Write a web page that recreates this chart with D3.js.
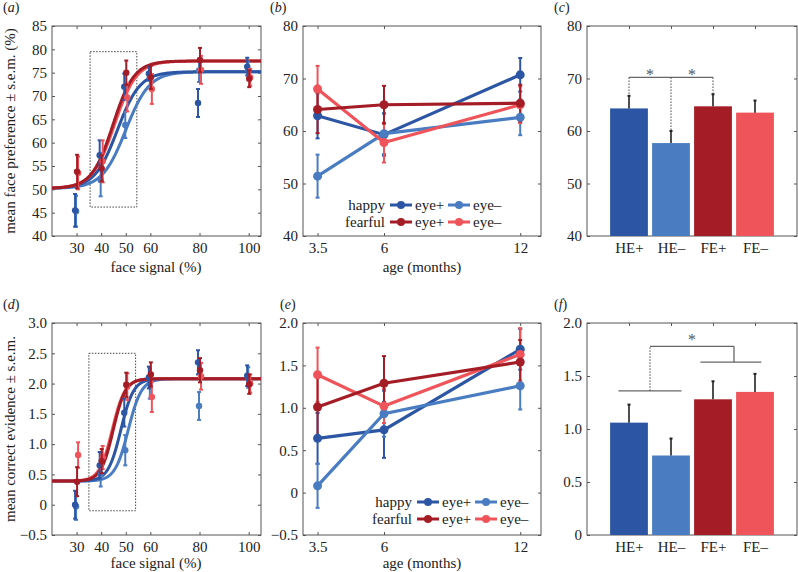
<!DOCTYPE html>
<html>
<head>
<meta charset="utf-8">
<style>
    body { margin: 0; background: #fff; }
    svg { display: block; font-family: 'Liberation Serif', 'DejaVu Serif', serif; }
    .tick text { font-size: 15px; fill: #222; font-family: 'Liberation Serif', 'DejaVu Serif', serif; }
    .tick line { stroke: #555; }
    .domain { display: none; }
    .axlabel { font-size: 15px; fill: #222; }
    .plabel { font-size: 14px; fill: #222; }
    .legend text { font-size: 15px; fill: #222; }
</style>
</head>
<body>
<svg width="798" height="572"></svg>

<script src="https://d3js.org/d3.v7.min.js"></script>
<script>
// ---------- data ----------
const series = ["HE+", "HE-", "FE+", "FE-"]
const seriesColor = ["#2c56a4", "#4a7cc2", "#a41c25", "#ee5459"]

const signal = [30, 40, 50, 60, 80, 100]
const ages = [3.5, 6, 12]
const barLabels = ["HE+", "HE\u2013", "FE+", "FE\u2013"]

// (a) face preference by face signal
const prefBySignal = [
    [45.5, 57.3, 72.0, 74.8, 68.5, 76.3],
    [45.3, 52.0, 63.8, 74.0, 75.5, 75.6],
    [53.8, 54.5, 75.0, 74.0, 77.7, 73.7],
    [53.5, 56.0, 69.7, 71.5, 75.6, 74.0]
]
const prefBySignalSem = [
    [3.5, 3.2, 2.8, 1.5, 3.0, 1.9],
    [3.3, 3.5, 2.8, 2.0, 2.5, 1.8],
    [3.6, 2.8, 2.6, 2.5, 2.6, 1.8],
    [3.5, 4.5, 3.0, 3.2, 3.0, 1.8]
]
// fitted psychometric curves for (a): base, top, midpoint, slope
const prefFitBase = 50.2
const prefFitTop = [75.2, 75.2, 77.5, 77.5]
const prefFitMid = [46.6, 50.0, 44.8, 45.4]
const prefFitSlope = [4.6, 4.8, 4.3, 4.5]
const prefZoomBox = [[35.5, 54.5], [46.2, 79.5]]

// (b) face preference by age
const prefByAge = [
    [62.9, 59.3, 70.7],
    [51.4, 59.5, 62.6],
    [64.1, 65.0, 65.3],
    [68.0, 57.8, 65.0]
]
const prefByAgeSem = [
    [4.3, 4.0, 3.2],
    [4.1, 3.9, 3.4],
    [4.5, 3.6, 3.5],
    [4.4, 3.8, 3.5]
]

// (c) face preference by condition
const prefMean = [64.3, 57.7, 64.7, 63.5]
const prefSem = [2.4, 2.3, 2.3, 2.3]

// (d) correct evidence by face signal
const evidBySignal = [
    [0.0, 0.65, 1.52, 2.10, 2.35, 2.13],
    [-0.03, 0.50, 0.90, 2.00, 1.63, 2.10],
    [0.38, 0.72, 1.98, 2.15, 2.22, 1.99],
    [0.82, 0.78, 1.95, 1.78, 2.12, 2.00]
]
const evidBySignalSem = [
    [0.23, 0.22, 0.23, 0.18, 0.20, 0.17],
    [0.22, 0.20, 0.25, 0.25, 0.23, 0.17],
    [0.24, 0.20, 0.20, 0.20, 0.20, 0.16],
    [0.21, 0.19, 0.22, 0.25, 0.22, 0.15]
]
const evidFitBase = 0.39
const evidFitTop = [2.08, 2.08, 2.08, 2.08]
const evidFitMid = [48.0, 51.0, 44.9, 44.5]
const evidFitSlope = [2.6, 2.7, 2.5, 2.6]
const evidZoomBox = [[35, 54], [-0.1, 2.5]]

// (e) correct evidence by age
const evidByAge = [
    [0.64, 0.74, 1.69],
    [0.08, 0.93, 1.26],
    [1.01, 1.29, 1.54],
    [1.39, 1.02, 1.63]
]
const evidByAgeSem = [
    [0.30, 0.33, 0.24],
    [0.26, 0.27, 0.28],
    [0.36, 0.32, 0.26],
    [0.32, 0.20, 0.31]
]

// (f) correct evidence by condition
const evidMean = [1.06, 0.75, 1.28, 1.35]
const evidSem = [0.17, 0.16, 0.17, 0.17]

// ---------- helpers ----------
let svg = d3.select("svg")
let minus = d3.format(".1f")

function frame(x, y, xTicks, yTicks, xFmt, yFmt) {
    let [x0, x1] = x.range()
    let [y0, y1] = y.range()
    let g = svg.append("g")
    g.append("rect")
        .attr("x", x0).attr("y", y1)
        .attr("width", x1 - x0).attr("height", y0 - y1)
        .style("fill", "none").style("stroke", "#555").style("stroke-width", 1)
    g.append("g").attr("transform", `translate(0,${y0})`)
        .call(d3.axisBottom(x).tickValues(xTicks).tickFormat(xFmt).tickSize(-3).tickPadding(6))
    g.append("g").attr("transform", `translate(0,${y1})`)
        .call(d3.axisTop(x).tickValues(xTicks).tickFormat("").tickSize(-3))
    g.append("g").attr("transform", `translate(${x0},0)`)
        .call(d3.axisLeft(y).tickValues(yTicks).tickFormat(yFmt).tickSize(-3).tickPadding(5))
    g.append("g").attr("transform", `translate(${x1},0)`)
        .call(d3.axisRight(y).tickValues(yTicks).tickFormat("").tickSize(-3))
    g.selectAll("g").attr("font-family", null)
    return g
}

function panelLabel(x, y, letter) {
    let t = svg.append("text").attr("class", "plabel").attr("x", x).attr("y", y)
    t.append("tspan").text("(")
    t.append("tspan").style("font-style", "italic").text(letter)
    t.append("tspan").text(")")
}

function xLabel(x, y, txt) {
    svg.append("text").attr("class", "axlabel").attr("x", x).attr("y", y)
        .attr("text-anchor", "middle").text(txt)
}

function yLabel(x, y, txt) {
    svg.append("text").attr("class", "axlabel")
        .attr("transform", `translate(${x},${y}) rotate(-90)`)
        .attr("text-anchor", "middle").text(txt)
}

function errorBars(g, xs, means, sems, color, xOff, cap, width) {
    means.forEach((m, i) => {
        let cx = xs(i) + xOff
        g.append("line").attr("x1", cx).attr("x2", cx)
            .attr("y1", sems.y(m - sems.v[i])).attr("y2", sems.y(m + sems.v[i]))
            .style("stroke", color).style("stroke-width", width)
        ;[m - sems.v[i], m + sems.v[i]].forEach(v => {
            g.append("line").attr("x1", cx - cap).attr("x2", cx + cap)
                .attr("y1", sems.y(v)).attr("y2", sems.y(v))
                .style("stroke", color).style("stroke-width", width)
        })
    })
}

function sigmoidPanel(x, y, means, sems, base, tops, mids, slopes, zoomBox, clipId) {
    let [x0, x1] = x.range()
    let [y0, y1] = y.range()
    svg.append("clipPath").attr("id", clipId).append("rect")
        .attr("x", x0).attr("y", y1).attr("width", x1 - x0).attr("height", y0 - y1)
    let g = svg.append("g").attr("clip-path", `url(#${clipId})`)

    g.append("rect")
        .attr("x", x(zoomBox[0][0])).attr("y", y(zoomBox[1][1]))
        .attr("width", x(zoomBox[0][1]) - x(zoomBox[0][0]))
        .attr("height", y(zoomBox[1][0]) - y(zoomBox[1][1]))
        .style("fill", "none").style("stroke", "#444").style("stroke-width", 1)
        .style("stroke-dasharray", "1.5,1.5")

    let xs = d3.range(x.domain()[0], x.domain()[1] + 0.01, 0.25)
    let line = d3.line().x(d => x(d[0])).y(d => y(d[1]))
    let order = [1, 0, 3, 2]
    let xOff = [-1.5, -0.5, 0.5, 1.5]
    order.forEach(s => {
        let pts = xs.map(v => [v, base + (tops[s] - base) / (1 + Math.exp(-(v - mids[s]) / slopes[s]))])
        g.append("path").attr("d", line(pts))
            .style("fill", "none").style("stroke", seriesColor[s]).style("stroke-width", 3)
    })
    order.forEach(s => {
        errorBars(g, i => x(signal[i]), means[s], { y: y, v: sems[s] }, seriesColor[s], xOff[s], 2, 2)
        g.selectAll(null).data(means[s]).join("circle")
            .attr("cx", (d, i) => x(signal[i]) + xOff[s]).attr("cy", d => y(d))
            .attr("r", 3.2).style("fill", seriesColor[s])
    })
}

function agePanel(x, y, means, sems, legendX, legendY) {
    let g = svg.append("g")
    let order = [0, 1, 3, 2]
    let line = d3.line().x((d, i) => x(ages[i])).y(d => y(d))
    order.forEach(s => {
        errorBars(g, i => x(ages[i]), means[s], { y: y, v: sems[s] }, seriesColor[s], 0, 2, 2)
    })
    order.forEach(s => {
        g.append("path").attr("d", line(means[s]))
            .style("fill", "none").style("stroke", seriesColor[s]).style("stroke-width", 3.2)
        g.selectAll(null).data(means[s]).join("circle")
            .attr("cx", (d, i) => x(ages[i])).attr("cy", d => y(d))
            .attr("r", 4.5).style("fill", seriesColor[s])
    })
    // legend
    let lg = svg.append("g").attr("class", "legend")
    let rows = ["happy", "fearful"]
    rows.forEach((r, ri) => {
        let cy = legendY + ri * 17
        lg.append("text").attr("x", legendX).attr("y", cy + 5).attr("text-anchor", "end").text(r)
        ;[0, 1].forEach(k => {
            let s = ri * 2 + k
            let sx = legendX + 5 + k * 58
            lg.append("line").attr("x1", sx).attr("x2", sx + 22).attr("y1", cy).attr("y2", cy)
                .style("stroke", seriesColor[s]).style("stroke-width", 3)
            lg.append("circle").attr("cx", sx + 11).attr("cy", cy).attr("r", 4).style("fill", seriesColor[s])
            lg.append("text").attr("x", sx + 25).attr("y", cy + 5).text(k == 0 ? "eye+" : "eye\u2013")
        })
    })
}

function barPanel(x, y, means, sems) {
    let g = svg.append("g")
    let w = 0.9
    g.selectAll(null).data(means).join("rect")
        .attr("x", (d, i) => x(i + 1 - w / 2))
        .attr("width", x(w) - x(0))
        .attr("y", d => y(d))
        .attr("height", d => y.range()[0] - y(d))
        .style("fill", (d, i) => seriesColor[i])
    means.forEach((m, i) => {
        let cx = x(i + 1)
        g.append("line").attr("x1", cx).attr("x2", cx).attr("y1", y(m)).attr("y2", y(m + sems[i]))
            .style("stroke", "#222").style("stroke-width", 1.6)
        g.append("line").attr("x1", cx - 1.5).attr("x2", cx + 1.5)
            .attr("y1", y(m + sems[i])).attr("y2", y(m + sems[i]))
            .style("stroke", "#222").style("stroke-width", 2)
    })
    return g
}

function seg(g, xa, ya, xb, yb, dotted) {
    g.append("line").attr("x1", xa).attr("x2", xb).attr("y1", ya).attr("y2", yb)
        .style("stroke", dotted ? "#444" : "#666")
        .style("stroke-width", dotted ? 1 : 1.3)
        .style("stroke-dasharray", dotted ? "1.5,1.5" : null)
}

function star(x, y) {
    svg.append("text").attr("x", x).attr("y", y).attr("text-anchor", "middle")
        .style("font-size", "16px").style("fill", "#555").text("*")
}

// ---------- panel (a) ----------
let xA = d3.scaleLinear().domain([20, 105]).range([52, 261])
let yA = d3.scaleLinear().domain([40, 85]).range([236, 26])
frame(xA, yA, signal, d3.range(40, 86, 5), d3.format("d"), d3.format("d"))
sigmoidPanel(xA, yA, prefBySignal, prefBySignalSem, prefFitBase, prefFitTop, prefFitMid, prefFitSlope, prefZoomBox, "clipA")
panelLabel(3, 12, "a")
xLabel(156, 272, "face signal (%)")
yLabel(15, 131, "mean face preference \u00b1 s.e.m. (%)")

// ---------- panel (b) ----------
let xB = d3.scalePow().exponent(0.75).domain([3, 13]).range([303, 541])
let yB = d3.scaleLinear().domain([40, 80]).range([236, 26])
frame(xB, yB, ages, d3.range(40, 81, 10), d3.format(""), d3.format("d"))
agePanel(xB, yB, prefByAge, prefByAgeSem, 385, 205)
panelLabel(270, 12, "b")
xLabel(422, 272, "age (months)")

// ---------- panel (c) ----------
let xC = d3.scaleLinear().domain([0, 5]).range([587, 797])
let yC = d3.scaleLinear().domain([40, 80]).range([236, 26])
frame(xC, yC, [1, 2, 3, 4], d3.range(40, 81, 10), (d, i) => barLabels[i], d3.format("d"))
let gC = barPanel(xC, yC, prefMean, prefSem)
let brC = 70.2
seg(gC, xC(1), yC(brC), xC(3), yC(brC), false)
;[0, 1, 2].forEach(i => seg(gC, xC(i + 1), yC(brC), xC(i + 1), yC(prefMean[i] + prefSem[i]), true))
star(xC(1.5), yC(71.2) + 8)
star(xC(2.5), yC(71.2) + 8)
panelLabel(554, 12, "c")

// ---------- panel (d) ----------
let xD = d3.scaleLinear().domain([20, 105]).range([52, 261])
let yD = d3.scaleLinear().domain([-0.5, 3]).range([535, 323])
let fmtD = v => v === 0 ? "0" : minus(v)
frame(xD, yD, signal, d3.range(-0.5, 3.01, 0.5), d3.format("d"), fmtD)
sigmoidPanel(xD, yD, evidBySignal, evidBySignalSem, evidFitBase, evidFitTop, evidFitMid, evidFitSlope, evidZoomBox, "clipD")
panelLabel(3, 309, "d")
xLabel(156, 568, "face signal (%)")
yLabel(15, 429, "mean correct evidence \u00b1 s.e.m.")

// ---------- panel (e) ----------
let xE = d3.scalePow().exponent(0.75).domain([3, 13]).range([303, 541])
let yE = d3.scaleLinear().domain([-0.5, 2]).range([535, 323])
frame(xE, yE, ages, d3.range(-0.5, 2.01, 0.5), d3.format(""), fmtD)
agePanel(xE, yE, evidByAge, evidByAgeSem, 412, 502)
panelLabel(280, 309, "e")
xLabel(422, 568, "age (months)")

// ---------- panel (f) ----------
let xF = d3.scaleLinear().domain([0, 5]).range([587, 797])
let yF = d3.scaleLinear().domain([0, 2]).range([535, 323])
frame(xF, yF, [1, 2, 3, 4], d3.range(0, 2.01, 0.5), (d, i) => barLabels[i], fmtD)
let gF = barPanel(xF, yF, evidMean, evidSem)
seg(gF, xF(0.75), yF(1.36), xF(2.25), yF(1.36), false)
seg(gF, xF(2.7), yF(1.63), xF(4.15), yF(1.63), false)
seg(gF, xF(1.5), yF(1.78), xF(3.5), yF(1.78), false)
seg(gF, xF(1.5), yF(1.36), xF(1.5), yF(1.78), true)
seg(gF, xF(3.5), yF(1.63), xF(3.5), yF(1.78), false)
star(xF(2.5), yF(1.86) + 7)
panelLabel(554, 309, "f")
</script>
</body>
</html>
